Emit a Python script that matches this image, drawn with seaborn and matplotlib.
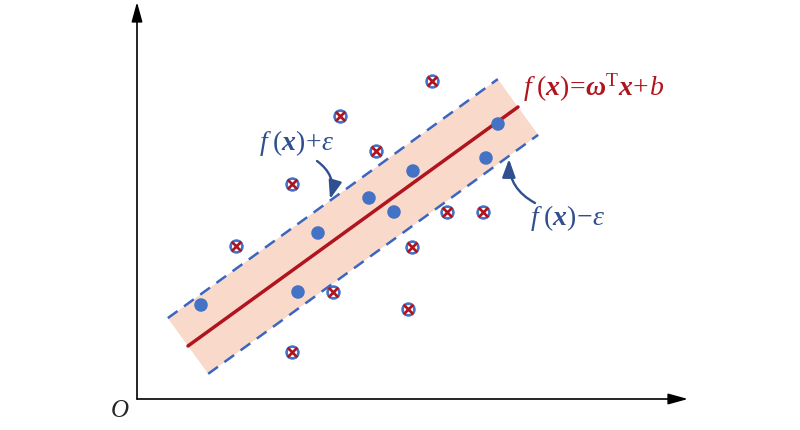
import numpy as np
import pandas as pd
import matplotlib.pyplot as plt
import seaborn as sns
from matplotlib.patches import Polygon, FancyArrowPatch

sns.set_style("white")
plt.rcParams['mathtext.fontset'] = 'custom'
plt.rcParams['mathtext.rm'] = 'Liberation Serif'
plt.rcParams['mathtext.it'] = 'Liberation Serif:italic'
plt.rcParams['mathtext.bf'] = 'Liberation Serif:bold'
plt.rcParams['mathtext.bfit'] = 'Liberation Serif:bold:italic'
plt.rcParams['font.family'] = ['Liberation Serif', 'DejaVu Serif']

# points inside the epsilon band (origin at O, y up)
in_x = [64, 161, 181, 232, 257, 276, 349, 361]
in_y = [94, 107, 166, 201, 187, 228, 241, 275]
# points outside the band
out_x = [295, 203, 239, 155, 310, 346, 99, 275, 196, 271, 155]
out_y = [318, 283, 248, 215, 187, 187, 153, 152, 107, 90, 47]

# regression line f(x) = w x + b and band half width
w = 0.7242
b = 16.1
line_x = [51, 381]
half_w = 34.4

blue = '#4472C4'
dash_blue = '#3A66BF'
dark_blue = '#2F4F8F'
red = '#B0141E'
peach = '#F9D9CA'

fig = plt.figure(figsize=(8, 4.31), dpi=100)
ax = fig.add_axes([0, 0, 1, 1])
ax.set_xlim(-137, 663)
ax.set_ylim(-31, 400)
ax.axis('off')

# band
p0 = np.array([line_x[0], w * line_x[0] + b])
p1 = np.array([line_x[1], w * line_x[1] + b])
n = np.array([-w, 1.0]) / np.sqrt(1 + w * w) * half_w
band = Polygon([p0 + n, p1 + n, p1 - n, p0 - n], closed=True,
               facecolor=peach, edgecolor='none', zorder=1)
ax.add_patch(band)
for s in (1, -1):
    ax.plot([p0[0] + s * n[0], p1[0] + s * n[0]], [p0[1] + s * n[1], p1[1] + s * n[1]],
            color=dash_blue, lw=1.8, dashes=(4.8, 3.2), zorder=2)

line_df = pd.DataFrame({'x': line_x, 'y': [w * v + b for v in line_x]})
sns.lineplot(data=line_df, x='x', y='y', color=red, lw=2.5, ax=ax, zorder=3)

inl = pd.DataFrame({'x': in_x, 'y': in_y})
outl = pd.DataFrame({'x': out_x, 'y': out_y})
sns.scatterplot(data=inl, x='x', y='y', color=blue, s=95, edgecolor='none', ax=ax, zorder=4)
sns.scatterplot(data=outl, x='x', y='y', color='white', s=72, edgecolor=blue,
                linewidth=1.9, ax=ax, zorder=4)
sns.scatterplot(data=outl, x='x', y='y', marker='x', color=red, s=48,
                linewidth=1.9, ax=ax, zorder=5)

# axes with arrow heads
arrow_kw = dict(arrowstyle='-|>,head_length=1.2,head_width=0.33', color='black',
                lw=1.2, shrinkA=0, shrinkB=0, mutation_scale=10)
ax.annotate('', xy=(0, 397), xytext=(0, 0), arrowprops=arrow_kw)
ax.annotate('', xy=(551, 0), xytext=(0, 0), arrowprops=arrow_kw)
ax.text(-17, -11, 'O', fontsize=18, style='italic', ha='center', va='center')

# labels
ax.text(386, 312, r'$\mathit{f}\;(\mathbfit{x})\!=\!\mathbfit{\omega}^{\mathrm{T}}\mathbfit{x}\!+\!\mathit{b}$',
        color=red, fontsize=20, ha='left', va='center')
ax.text(160, 257, r'$\mathit{f}\;(\mathbfit{x})\!+\!\varepsilon$',
        color=dark_blue, fontsize=20, ha='center', va='center')
ax.text(431, 182, r'$\mathit{f}\;(\mathbfit{x})\!-\!\varepsilon$',
        color=dark_blue, fontsize=20, ha='center', va='center')

curve_kw = dict(arrowstyle='-|>,head_length=1.1,head_width=0.4', color=dark_blue,
                lw=1.7, shrinkA=0, shrinkB=0, mutation_scale=10)
ax.add_patch(FancyArrowPatch((180, 238), (193, 200), connectionstyle='arc3,rad=-0.35', **curve_kw))
ax.add_patch(FancyArrowPatch((398, 196), (372, 240), connectionstyle='arc3,rad=-0.3', **curve_kw))

fig.savefig('out.png', dpi=100)
